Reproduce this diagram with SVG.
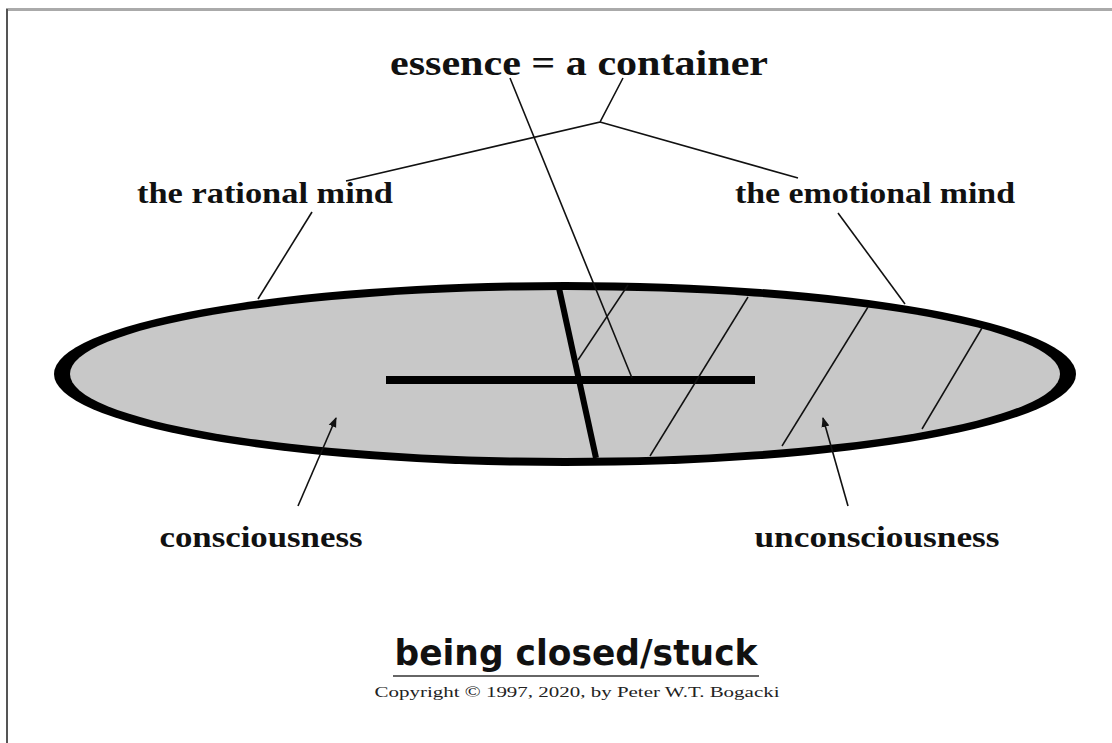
<svg xmlns="http://www.w3.org/2000/svg" width="1112" height="743" viewBox="0 0 1112 743">
<style>
.lbl{font-family:"Liberation Serif","Times New Roman",serif;font-weight:bold;fill:#111}
.thin{stroke:#111;stroke-width:1.6;fill:none}
.hatch{stroke:#111;stroke-width:1.5;fill:none}
</style>
<defs>
<marker id="ah" viewBox="0 0 10 10" refX="9" refY="5" markerWidth="10" markerHeight="10" markerUnits="userSpaceOnUse" orient="auto">
<path d="M0,1 L10,5 L0,9 z" fill="#111"/>
</marker>
</defs>
<rect x="0" y="0" width="1112" height="743" fill="#fff"/>
<g id="frame">
<line x1="6" y1="9.5" x2="1112" y2="9.5" stroke="#aaa" stroke-width="3"/>
<line x1="7" y1="9" x2="7" y2="743" stroke="#555" stroke-width="2"/>
</g>
<g id="container">
<ellipse cx="565" cy="374" rx="511" ry="92" fill="#000"/>
<ellipse cx="565" cy="374" rx="495" ry="84" fill="#c8c8c8"/>
<line x1="386" y1="380" x2="755" y2="380" stroke="#000" stroke-width="8"/>
<line x1="559" y1="288" x2="596" y2="458" stroke="#000" stroke-width="6"/>
<line class="hatch" x1="578" y1="360" x2="628" y2="285"/>
<line class="hatch" x1="650" y1="456" x2="748" y2="297"/>
<line class="hatch" x1="782" y1="446" x2="868" y2="307"/>
<line class="hatch" x1="922" y1="429" x2="982" y2="328"/>
</g>
<g id="essence"><text class="lbl" x="579" y="75" font-size="36" text-anchor="middle" textLength="378" lengthAdjust="spacingAndGlyphs">essence = a container</text></g>
<g id="rational"><text class="lbl" x="265" y="203" font-size="30" text-anchor="middle" textLength="256" lengthAdjust="spacingAndGlyphs">the rational mind</text></g>
<g id="emotional"><text class="lbl" x="875" y="203" font-size="30" text-anchor="middle" textLength="280" lengthAdjust="spacingAndGlyphs">the emotional mind</text></g>
<g id="consciousness"><text class="lbl" x="261" y="547" font-size="30" text-anchor="middle" textLength="203" lengthAdjust="spacingAndGlyphs">consciousness</text></g>
<g id="unconsciousness"><text class="lbl" x="877" y="547" font-size="30" text-anchor="middle" textLength="245" lengthAdjust="spacingAndGlyphs">unconsciousness</text></g>
<g id="title">
<text x="576" y="665" font-family="DejaVu Sans, sans-serif" font-weight="bold" font-size="36" text-anchor="middle" fill="#111" textLength="363" lengthAdjust="spacingAndGlyphs">being closed/stuck</text>
<line x1="393" y1="676" x2="759" y2="676" stroke="#666" stroke-width="2"/>
<text x="577" y="697" font-family="Liberation Serif, serif" font-size="15" text-anchor="middle" fill="#222" textLength="405" lengthAdjust="spacingAndGlyphs">Copyright © 1997, 2020, by Peter W.T. Bogacki</text>
</g>
<g id="connectors">
<line class="thin" x1="510" y1="78" x2="632" y2="378"/>
<polyline class="thin" points="623,78 600,122 346,181"/>
<line class="thin" x1="600" y1="122" x2="798" y2="178"/>
<line class="thin" x1="312" y1="212" x2="258" y2="299"/>
<line class="thin" x1="838" y1="213" x2="905" y2="304"/>
<line class="thin" x1="298" y1="506" x2="336" y2="418" marker-end="url(#ah)"/>
<line class="thin" x1="848" y1="506" x2="823" y2="418" marker-end="url(#ah)"/>
</g>
</svg>
